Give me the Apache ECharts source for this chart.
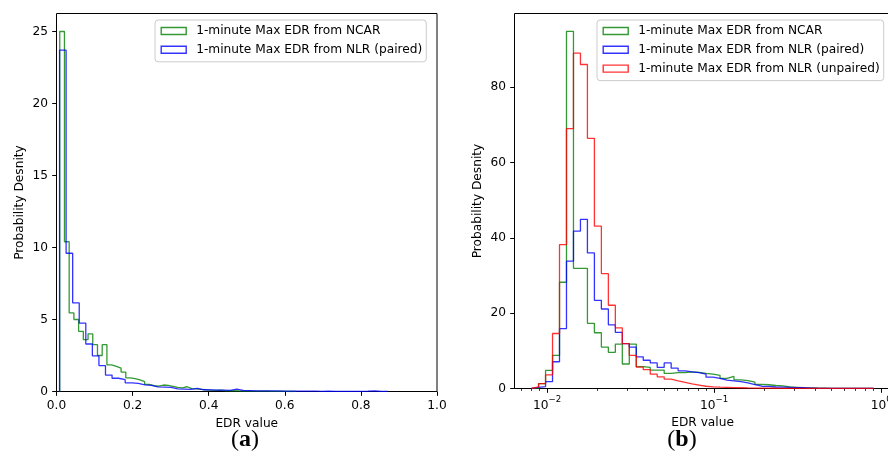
<!DOCTYPE html>
<html>
<head>
<meta charset="utf-8">
<script src="https://cdn.jsdelivr.net/npm/echarts@6/dist/echarts.min.js"></script>
<style>
  html, body { margin: 0; padding: 0; background: #ffffff; }
  #chart { width: 888px; height: 465px; }
</style>
</head>
<body>
<div id="chart"></div>
<script>
// ---- Series names ----
const nameNcar = '1-minute Max EDR from NCAR';
const nameNlrPaired = '1-minute Max EDR from NLR (paired)';
const nameNlrUnpaired = '1-minute Max EDR from NLR (unpaired)';

// ---- Panel (a): linear bins, probability density per bin ----
const ncarLinStart = 0.0085;
const ncarLinWidth = 0.0124;
const ncarLinDensity = [
  25.0, 10.4, 5.46, 5.0, 4.18, 3.6, 4.0, 3.25, 2.5, 3.25,
  1.85, 1.75, 1.62, 1.35, 0.95, 0.9, 0.8, 0.68, 0.5, 0.4,
  0.38, 0.45, 0.42, 0.35, 0.28, 0.25, 0.33, 0.2, 0.18, 0.15,
  0.12, 0.1, 0.08, 0.1, 0.06, 0.05, 0.06, 0.04, 0.03, 0.05,
  0.03, 0.02, 0.02, 0.03, 0.01, 0.01, 0.02, 0.01, 0.0, 0.01
];
const nlrLinStart = 0.008;
const nlrLinWidth = 0.01725;
const nlrLinDensity = [
  23.7, 9.6, 6.15, 4.75, 3.3, 2.47, 1.8, 1.14, 0.92, 0.82,
  0.6, 0.57, 0.46, 0.42, 0.32, 0.3, 0.28, 0.18, 0.17, 0.15,
  0.22, 0.12, 0.11, 0.1, 0.09, 0.08, 0.16, 0.07, 0.06, 0.05,
  0.05, 0.04, 0.04, 0.03, 0.03, 0.03, 0.02, 0.02, 0.02, 0.01,
  0.02, 0.01, 0.01, 0.01, 0.01, 0.01, 0.02, 0.05, 0.01, 0.01
];

// ---- Panel (b): shared log-spaced bins (50 edges, 49 bins) ----
const logEdgeMin = 0.00808;
const logEdgeMax = 0.899;
const logEdgeCount = 50;
const ncarLogDensity = [
  0.0, 1.3, 4.8, 8.8, 28.2, 94.8, 31.9, 31.9, 17.3, 14.8,
  11.0, 9.6, 11.8, 6.5, 11.8, 5.8, 5.6, 4.9, 4.9, 4.0,
  4.2, 4.2, 4.4, 4.3, 4.0, 3.8, 3.5, 2.7, 3.2, 2.3,
  2.1, 1.7, 1.1, 1.0, 0.8, 0.7, 0.4, 0.3, 0.2, 0.15,
  0.1, 0.08, 0.05, 0.05, 0.03, 0.02, 0.01, 0.01, 0.0
];
const nlrPairedLogDensity = [
  0.3, 0.5, 1.8, 7.1, 15.9, 33.8, 41.8, 44.9, 36.0, 23.4,
  21.1, 16.9, 14.9, 11.9, 11.0, 8.4, 7.5, 6.8, 5.6, 6.8,
  5.4, 4.7, 4.4, 4.2, 3.8, 3.0, 2.7, 2.2, 2.0, 1.8,
  1.5, 1.0, 0.6, 0.55, 0.4, 0.35, 0.3, 0.25, 0.2, 0.12,
  0.08, 0.05, 0.04, 0.03, 0.02, 0.02, 0.01, 0.01, 0.01
];
const nlrUnpairedLogDensity = [
  0.45, 1.3, 3.6, 14.6, 38.2, 69.0, 89.0, 86.0, 66.4, 43.1,
  30.5, 22.1, 16.1, 11.9, 8.8, 5.7, 5.0, 3.8, 3.1, 2.5,
  2.0, 1.6, 1.2, 0.9, 0.6, 0.45, 0.35, 0.3, 0.25, 0.2,
  0.15, 0.12, 0.1, 0.08, 0.06, 0.05, 0.04, 0.03, 0.03, 0.02,
  0.02, 0.01, 0.01, 0.01, 0.01, 0.01, 0.01, 0.01, 0.01
];

// ---- Tick values ----
const ticksXa = [0.0, 0.2, 0.4, 0.6, 0.8, 1.0];
const ticksYa = [0, 5, 10, 15, 20, 25];
const ticksYb = [0, 20, 40, 60, 80];
const ticksXbMajor = [0.001, 0.01, 0.1, 1];
const minorMultipliers = [2, 3, 4, 5, 6, 7, 8, 9];

// ---- Styling ----
const font = 'DejaVu Sans';
const fs = 12.2;
const ink = '#000000';
const colNcar = 'rgba(0,128,0,0.8)';
const colPaired = 'rgba(0,0,255,0.8)';
const colUnpaired = 'rgba(255,0,0,0.8)';

// ---- Helpers: bin edges and step outlines ----
function linearEdges(start, width, n) {
  const e = [];
  for (let i = 0; i <= n; i++) e.push(start + i * width);
  return e;
}
function logEdges(lo, hi, count) {
  const a = Math.log10(lo), b = Math.log10(hi), e = [];
  for (let i = 0; i < count; i++) e.push(Math.pow(10, a + (b - a) * i / (count - 1)));
  return e;
}
function stepOutline(edges, dens) {
  const pts = [[edges[0], 0]];
  for (let i = 0; i < dens.length; i++) {
    pts.push([edges[i], dens[i]]);
    pts.push([edges[i + 1], dens[i]]);
  }
  pts.push([edges[dens.length], 0]);
  return pts;
}

const edgesNcarLin = linearEdges(ncarLinStart, ncarLinWidth, ncarLinDensity.length);
const edgesNlrLin = linearEdges(nlrLinStart, nlrLinWidth, nlrLinDensity.length);
const edgesLog = logEdges(logEdgeMin, logEdgeMax, logEdgeCount);

// auto limits: 5% headroom on y, 5% log-margin on panel (b) x
const yMaxA = 1.05 * Math.max(...ncarLinDensity, ...nlrLinDensity);
const yMaxB = 1.05 * Math.max(...ncarLogDensity, ...nlrPairedLogDensity, ...nlrUnpairedLogDensity);
const lLo = Math.log10(logEdgeMin), lHi = Math.log10(logEdgeMax);
const lPad = 0.05 * (lHi - lLo);
const xMinB = Math.pow(10, lLo - lPad);
const xMaxB = Math.pow(10, lHi + lPad);

const ticksXbMinor = [];
[-3, -2, -1, 0].forEach(function (d) {
  minorMultipliers.forEach(function (m) { ticksXbMinor.push(m * Math.pow(10, d)); });
});

const gridA = { left: 56.5, top: 13.5, width: 380.5, height: 378 };
const gridBLeft = 514.5, gridBPxPerDecade = 167.1;
const gridB = {
  left: gridBLeft, top: 13.5, height: 375,
  width: gridBPxPerDecade * (Math.log10(xMaxB) - Math.log10(xMinB))
};
const gridCommon = { show: true, borderColor: ink, borderWidth: 1, backgroundColor: 'transparent', outerBoundsMode: 'none', containLabel: false };

const tickStyle = { show: true, inside: false, length: 4.3, lineStyle: { color: ink, width: 1 } };
const labelBase = { color: ink, fontFamily: font, fontSize: fs, margin: 8.6 };
const nameStyle = { color: ink, fontFamily: font, fontSize: fs };

function legendItem(name, color) {
  return { name: name, icon: 'rect', itemStyle: { color: 'rgba(0,0,0,0)', borderColor: color, borderWidth: 1.4 } };
}
const legendBase = {
  orient: 'vertical', itemWidth: 25, itemHeight: 7, itemGap: 6.8,
  padding: [5, 4, 6, 5.5], backgroundColor: 'rgba(255,255,255,0.8)',
  borderColor: '#cccccc', borderWidth: 1, borderRadius: 3,
  selectedMode: false,
  textStyle: { color: ink, fontFamily: font, fontSize: fs, padding: [0, 0, 0, 5] }
};

function stepSeries(name, color, xi, yi, edges, dens, z) {
  return {
    type: 'line', name: name, xAxisIndex: xi, yAxisIndex: yi,
    data: stepOutline(edges, dens), showSymbol: false, symbol: 'none',
    lineStyle: { color: color, width: 1.3 }, itemStyle: { color: color },
    silent: true, z: z
  };
}

const panelTag = function (letter, cx) {
  return {
    text: '({bb|' + letter + '})', left: cx, top: 428, textAlign: 'center', padding: 0,
    textStyle: {
      fontFamily: 'Liberation Serif', fontSize: 24, fontWeight: 'normal', color: ink,
      rich: { bb: { fontFamily: 'Liberation Serif', fontSize: 24, fontWeight: 'bold', color: ink } }
    }
  };
};

const option = {
  animation: false,
  backgroundColor: '#ffffff',
  title: [panelTag('a', 245), panelTag('b', 682)],
  legend: [
    Object.assign({}, legendBase, { left: 155, top: 20,
      data: [legendItem(nameNcar, colNcar), legendItem(nameNlrPaired, colPaired)] }),
    Object.assign({}, legendBase, { left: 597, top: 20,
      data: [legendItem(nameNcar, colNcar), legendItem(nameNlrPaired, colPaired), legendItem(nameNlrUnpaired, colUnpaired)] })
  ],
  grid: [
    Object.assign({}, gridCommon, gridA),
    Object.assign({}, gridCommon, gridB)
  ],
  xAxis: [
    {
      gridIndex: 0, type: 'value', position: 'bottom', min: 0, max: 1,
      name: 'EDR value', nameLocation: 'middle', nameGap: 26, nameTextStyle: nameStyle,
      axisLine: { show: false }, splitLine: { show: false },
      axisTick: Object.assign({ customValues: ticksXa }, tickStyle),
      axisLabel: Object.assign({ customValues: ticksXa, formatter: function (v) { return v.toFixed(1); } }, labelBase)
    },
    {
      gridIndex: 1, type: 'log', logBase: 10, position: 'bottom', min: xMinB, max: xMaxB,
      name: 'EDR value', nameLocation: 'middle', nameGap: 26, nameTextStyle: nameStyle,
      axisLine: { show: false }, splitLine: { show: false }, minorTick: { show: false },
      axisTick: Object.assign({ customValues: ticksXbMajor }, tickStyle),
      axisLabel: Object.assign({
        customValues: ticksXbMajor,
        formatter: function (v) {
          const e = Math.round(Math.log10(v));
          return '{base|10}{exp|' + (e < 0 ? '\u2212' + (-e) : String(e)) + '}';
        },
        rich: {
          base: { fontFamily: font, fontSize: fs, color: ink, verticalAlign: 'bottom', padding: [4, 0, 0, 0] },
          exp: { fontFamily: font, fontSize: 8.6, color: ink, verticalAlign: 'top' }
        }
      }, labelBase, { margin: 7 })
    },
    {
      gridIndex: 1, type: 'log', logBase: 10, position: 'bottom', min: xMinB, max: xMaxB,
      axisLine: { show: false }, splitLine: { show: false }, axisLabel: { show: false },
      axisTick: { show: true, inside: false, length: 2.4, customValues: ticksXbMinor, lineStyle: { color: ink, width: 0.8 } }
    }
  ],
  yAxis: [
    {
      gridIndex: 0, type: 'value', min: 0, max: yMaxA,
      name: 'Probability Desnity', nameLocation: 'middle', nameGap: 31, nameTextStyle: nameStyle,
      axisLine: { show: false }, splitLine: { show: false },
      axisTick: Object.assign({ customValues: ticksYa }, tickStyle),
      axisLabel: Object.assign({ customValues: ticksYa }, labelBase)
    },
    {
      gridIndex: 1, type: 'value', min: 0, max: yMaxB,
      name: 'Probability Desnity', nameLocation: 'middle', nameGap: 31, nameTextStyle: nameStyle,
      axisLine: { show: false }, splitLine: { show: false },
      axisTick: Object.assign({ customValues: ticksYb }, tickStyle),
      axisLabel: Object.assign({ customValues: ticksYb }, labelBase)
    }
  ],
  series: [
    stepSeries(nameNcar, colNcar, 0, 0, edgesNcarLin, ncarLinDensity, 2),
    stepSeries(nameNlrPaired, colPaired, 0, 0, edgesNlrLin, nlrLinDensity, 3),
    stepSeries(nameNcar, colNcar, 1, 1, edgesLog, ncarLogDensity, 2),
    stepSeries(nameNlrPaired, colPaired, 1, 1, edgesLog, nlrPairedLogDensity, 3),
    stepSeries(nameNlrUnpaired, colUnpaired, 1, 1, edgesLog, nlrUnpairedLogDensity, 4)
  ]
};

const chart = echarts.init(document.getElementById('chart'), null, { renderer: 'canvas' });
chart.setOption(option);
</script>
</body>
</html>
